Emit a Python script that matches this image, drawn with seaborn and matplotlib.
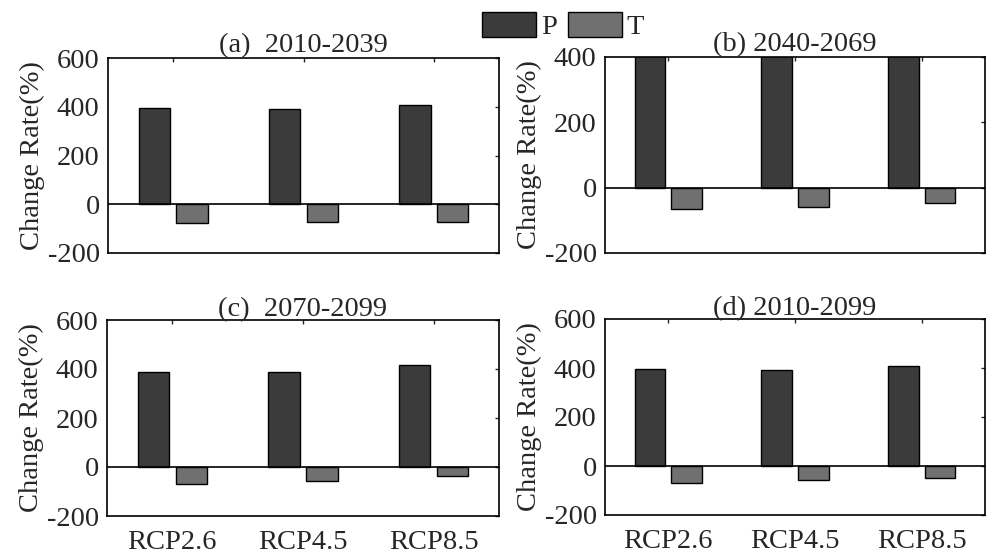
import numpy as np
import pandas as pd
import matplotlib
matplotlib.use("Agg")
import matplotlib.pyplot as plt
import seaborn as sns

# Scenarios and change rates (%) of P and T for each period
scenarios = ["RCP2.6", "RCP4.5", "RCP8.5"]
periods = ["(a)  2010-2039", "(b) 2040-2069", "(c)  2070-2099", "(d) 2010-2099"]
p_values = [
    [396, 392, 408],
    [418, 415, 425],
    [388, 388, 418],
    [397, 392, 408],
]
t_values = [
    [-76, -72, -72],
    [-66, -58, -46],
    [-68, -57, -37],
    [-68, -58, -50],
]
y_limits = [(-200, 600), (-200, 400), (-200, 600), (-200, 600)]
y_ticks = [[-200, 0, 200, 400, 600], [-200, 0, 200, 400],
           [-200, 0, 200, 400, 600], [-200, 0, 200, 400, 600]]

sns.set_style("white")
plt.rcParams["font.family"] = ["Liberation Serif", "DejaVu Serif"]
plt.rcParams["font.size"] = 20
plt.rcParams["axes.unicode_minus"] = False

fig = plt.figure(figsize=(9.86, 5.53), dpi=100)
W, H = 986.0, 553.0
boxes = [  # left, top, right, bottom in pixels
    (108, 58, 499, 253),
    (605, 57, 985, 253),
    (107, 320, 499, 516),
    (605, 319, 985, 515),
]
palette = {"P": "#3b3b3b", "T": "#707070"}
FS = 20.5

axes = []
for i, (l, t, r, b) in enumerate(boxes):
    ax = fig.add_axes([l / W, 1 - b / H, (r - l) / W, (b - t) / H])
    df = pd.DataFrame({
        "scenario": scenarios * 2,
        "var": ["P"] * 3 + ["T"] * 3,
        "value": p_values[i] + t_values[i],
    })
    sns.barplot(data=df, x="scenario", y="value", hue="var", palette=palette,
                width=0.58, gap=0.17, edgecolor="black", linewidth=1.0,
                saturation=1, ax=ax, legend=(i == 0))
    ax.axhline(0, color="black", lw=1.2, zorder=3)
    ax.set_xlim(-0.5, 2.5)
    ax.set_ylim(*y_limits[i])
    ax.set_yticks(y_ticks[i])
    ax.set_title(periods[i], fontsize=FS, pad=3)
    ax.set_ylabel("Change Rate(%)", fontsize=FS, labelpad=2)
    ax.set_xlabel("")
    for s in ax.spines.values():
        s.set_visible(True)
        s.set_color("black")
        s.set_linewidth(1.2)
    ax.tick_params(direction="in", top=True, right=True, length=3,
                   width=1.0, labelsize=FS)
    ax.tick_params(axis="y", pad=6)
    ax.tick_params(axis="x", pad=10)
    if i < 2:
        ax.tick_params(labelbottom=False)
    axes.append(ax)

handles, labels = axes[0].get_legend_handles_labels()
axes[0].get_legend().remove()
fig.legend(handles, labels, loc="center", bbox_to_anchor=(563 / W, 1 - 26 / H),
           ncol=2, frameon=False, handlelength=1.9, handleheight=1.0,
           handletextpad=0.15, columnspacing=0.4, fontsize=FS, borderpad=0)

fig.savefig("out.png", dpi=100)
